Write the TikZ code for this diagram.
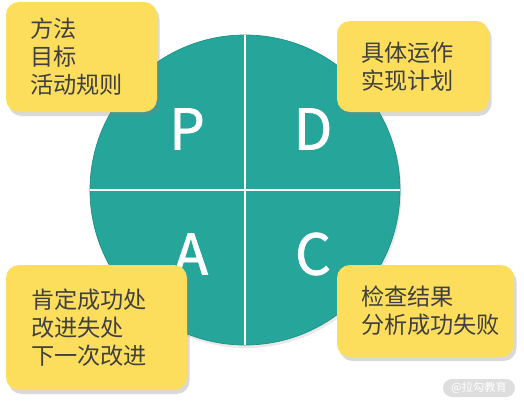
\documentclass[tikz,border=0pt]{standalone}
\usepackage{fontspec}
\usepackage{tikz}
\usetikzlibrary{positioning, calc, shadows}
\newfontfamily\cjk{Noto Sans CJK SC}
\newfontfamily\pdcafont{Noto Sans CJK SC}[FakeBold=1.3]
\definecolor{pdcaTeal}{HTML}{26A69A}
\definecolor{pdcaTealLine}{HTML}{1E8F84}
\definecolor{noteYellow}{HTML}{FDDE5C}
\definecolor{noteInk}{HTML}{404040}
\definecolor{markGray}{HTML}{DEDEDE}

\begin{document}
\begin{tikzpicture}[
    wheel/.style={
        circle,
        draw=pdcaTealLine,
        fill=pdcaTeal,
        line width=0.4pt,
        minimum size=6.2cm,
        inner sep=0pt,
        drop shadow={shadow xshift=0.03cm, shadow yshift=-0.06cm, opacity=0.18}
    },
    divider/.style={
        draw=white,
        line width=0.9pt
    },
    letter/.style={
        text=white,
        font=\pdcafont\fontsize{32}{36}\selectfont,
        inner sep=0pt
    },
    note/.style={
        rectangle,
        rounded corners=2.6mm,
        fill=noteYellow,
        inner sep=0pt,
        drop shadow={shadow xshift=0.05cm, shadow yshift=-0.08cm, opacity=0.3}
    },
    notetext/.style={
        align=left,
        inner sep=0pt,
        text=noteInk,
        font=\cjk\fontsize{13.2}{15.9}\selectfont
    },
    watermark/.style={
        rectangle,
        rounded corners=1.8mm,
        fill=markGray,
        text=white,
        minimum width=1.44cm,
        minimum height=0.36cm,
        inner sep=0pt,
        font=\cjk\fontsize{6.4}{7}\selectfont
    }
]
\useasboundingbox (0,0) rectangle (10.48,-8.02);

% Wheel
\node[wheel] (pdca) at (4.90,-3.80) {};
\draw[divider] (pdca.north) -- (pdca.south);
\draw[divider] (pdca.west) -- (pdca.east);

\node[letter] (plan) at (3.74,-2.58) {P};
\node[letter] (do) at (6.26,-2.58) {D};
\node[letter] (act) at (3.82,-5.08) {A};
\node[letter] (check) at (6.26,-5.08) {C};

% Notes
\node[note, minimum width=3.02cm, minimum height=2.20cm] (planbox) at (1.63,-1.14) {};
\node[notetext, anchor=west] (plantext) at ([xshift=0.48cm]planbox.west) {
方法\\
目标\\
活动规则
};

\node[note, minimum width=3.04cm, minimum height=1.82cm] (dobox) at (8.26,-1.33) {};
\node[notetext, anchor=west] (dotext) at ([xshift=0.48cm]dobox.west) {
具体运作\\
实现计划
};

\node[note, minimum width=3.62cm, minimum height=2.50cm] (actbox) at (1.93,-6.55) {};
\node[notetext, anchor=west] (acttext) at ([xshift=0.50cm]actbox.west) {
肯定成功处\\
改进失处\\
下一次改进
};

\node[note, minimum width=3.54cm, minimum height=1.84cm] (checkbox) at (8.51,-6.22) {};
\node[notetext, anchor=west] (checktext) at ([xshift=0.48cm]checkbox.west) {
检查结果\\
分析成功失败
};

% Mark
\node[watermark] (mark) at (9.58,-7.76) {@拉勾教育};

\end{tikzpicture}
\end{document}
